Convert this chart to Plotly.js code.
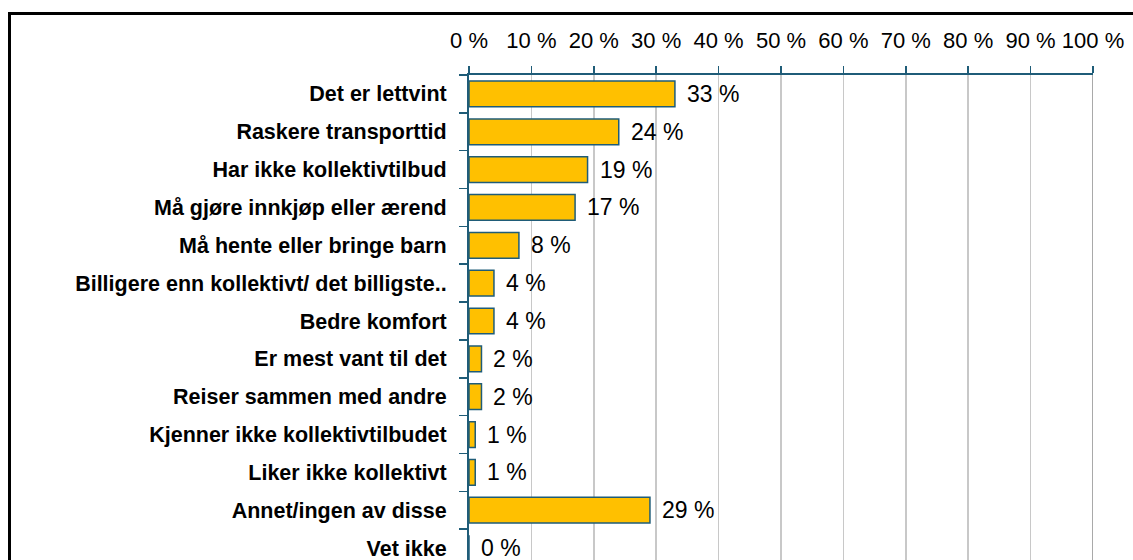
<!DOCTYPE html>
<html>
<head>
<meta charset="utf-8">
<script src="https://cdn.plot.ly/plotly-3.0.1.min.js"></script>
<style>
html,body{margin:0;padding:0;overflow:hidden;background:#fff;width:1133px;height:560px;}
#chart{position:absolute;left:0;top:0;width:1133px;height:570px;}
#frame{position:absolute;left:8px;top:12px;width:1400px;height:800px;border:3px solid #000;pointer-events:none;}
</style>
</head>
<body>
<div id="chart"></div>
<div id="frame"></div>
<script>
const categories = [
  "Det er lettvint",
  "Raskere transporttid",
  "Har ikke kollektivtilbud",
  "Må gjøre innkjøp eller ærend",
  "Må hente eller bringe barn",
  "Billigere enn kollektivt/ det billigste..",
  "Bedre komfort",
  "Er mest vant til det",
  "Reiser sammen med andre",
  "Kjenner ikke kollektivtilbudet",
  "Liker ikke kollektivt",
  "Annet/ingen av disse",
  "Vet ikke"
];
const values = [33, 24, 19, 17, 8, 4, 4, 2, 2, 1, 1, 29, 0];
const tickValues = [0,10,20,30,40,50,60,70,80,90,100];

const teal = '#1F5C78';
const trace = {
  type: 'bar',
  orientation: 'h',
  x: values,
  y: categories,
  width: 0.68,
  marker: {color: '#FFC000', line: {color: teal, width: 1.5}},
  hoverinfo: 'none'
};

const annotations = values.map((v, i) => ({
  x: v, y: categories[i], xref: 'x', yref: 'y',
  text: v + ' %', showarrow: false, xanchor: 'left', xshift: 10,
  font: {family: 'Liberation Sans, Arial, sans-serif', size: 23, color: '#000'}
}));

const layout = {
  width: 1133, height: 570,
  margin: {l: 469, r: 40, t: 75, b: 3},
  paper_bgcolor: '#fff', plot_bgcolor: '#fff',
  showlegend: false,
  xaxis: {
    side: 'top', range: [0, 100], tickvals: tickValues,
    ticktext: tickValues.map(t => t + ' %'),
    showgrid: true, gridcolor: '#C8C8C8', gridwidth: 1.5,
    showline: true, linecolor: teal, linewidth: 2,
    ticks: 'outside', ticklen: 7, tickcolor: teal, tickwidth: 1.5,
    ticklabelstandoff: 9,
    zeroline: false, fixedrange: true,
    tickfont: {family: 'Liberation Sans, Arial, sans-serif', size: 22, color: '#000'}
  },
  yaxis: {
    autorange: 'reversed', type: 'category',
    showline: true, linecolor: teal, linewidth: 2,
    ticks: 'outside', ticklen: 8, tickcolor: teal, tickwidth: 1.5,
    tickson: 'boundaries', showgrid: false, zeroline: false,
    ticklabelstandoff: 16, fixedrange: true,
    tickfont: {family: 'Liberation Sans, Arial, sans-serif', size: 21.5, color: '#000', weight: 'bold'}
  },
  shapes: [{type: 'line', xref: 'x', yref: 'paper', x0: 100, x1: 100, y0: 0, y1: 1,
            line: {color: '#8C8C8C', width: 1.5}}],
  annotations: annotations
};

Plotly.newPlot('chart', [trace], layout, {displayModeBar: false, staticPlot: true});
</script>
</body>
</html>
